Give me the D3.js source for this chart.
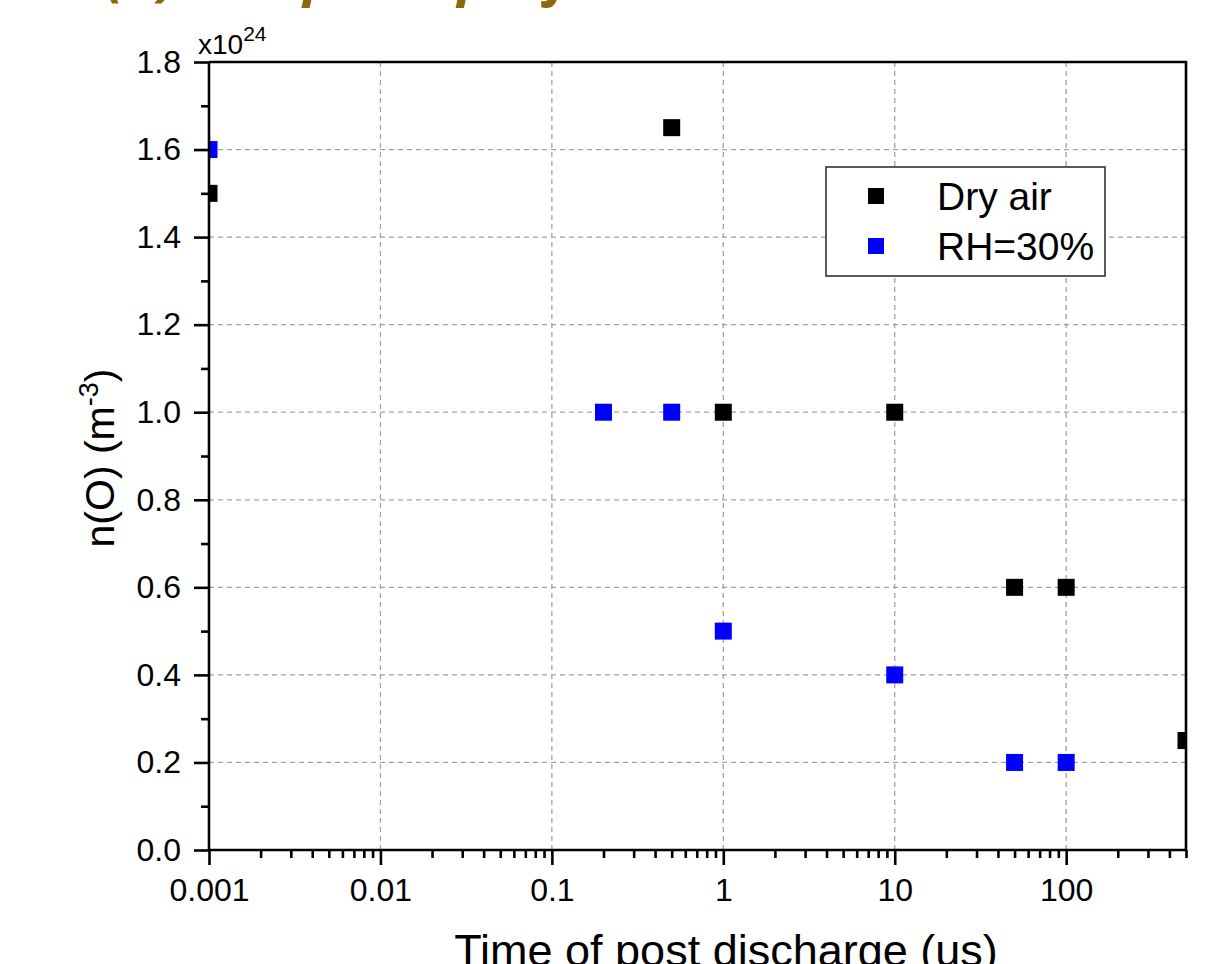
<!DOCTYPE html>
<html>
<head>
<meta charset="utf-8">
<script src="https://cdn.jsdelivr.net/npm/d3@7"></script>
<style>
  html, body { margin: 0; padding: 0; background: #fff; }
  svg { display: block; font-family: "Liberation Sans", Arial, sans-serif; }
</style>
</head>
<body>
<svg id="chart" width="1221" height="964"></svg>
<script>
// ---- data ----
const dryTime  = [0.001, 0.5, 1, 10, 50, 100, 500];
const dryValue = [1.5, 1.65, 1.0, 1.0, 0.6, 0.6, 0.25];
const rhTime   = [0.001, 0.2, 0.5, 1, 10, 50, 100];
const rhValue  = [1.6, 1.0, 1.0, 0.5, 0.4, 0.2, 0.2];
const seriesNames = ["Dry air", "RH=30%"];
const xTickValues = [0.001, 0.01, 0.1, 1, 10, 100];
const xTickLabels = ["0.001", "0.01", "0.1", "1", "10", "100"];
const yTickValues = [0, 0.2, 0.4, 0.6, 0.8, 1.0, 1.2, 1.4, 1.6, 1.8];
const yTickLabels = ["0.0", "0.2", "0.4", "0.6", "0.8", "1.0", "1.2", "1.4", "1.6", "1.8"];

// ---- layout ----
const L = 209, R = 1186, T = 62, B = 850;
const svg = d3.select("#chart");

const x = d3.scaleLog().domain([0.001, 500]).range([L, R]);
const y = d3.scaleLinear().domain([0, 1.8]).range([B, T]);

// title (cropped at top of picture)
svg.append("text")
  .attr("x", 106).attr("y", -5)
  .attr("fill", "#8a6a0c")
  .attr("font-size", 56).attr("font-weight", "bold").attr("font-style", "italic")
  .attr("font-family", "Open Sans, sans-serif")
  .text("(a) Temporal profile");

// grid
const gridColor = "#a3a3a3";
svg.append("g").selectAll("line")
  .data(xTickValues.filter(v => v > 0.001))
  .join("line")
  .attr("x1", d => x(d)).attr("x2", d => x(d))
  .attr("y1", T).attr("y2", B)
  .attr("stroke", gridColor).attr("stroke-width", 1.3).attr("stroke-dasharray", "5,4");
svg.append("g").selectAll("line")
  .data(yTickValues.filter(v => v > 0 && v < 1.8))
  .join("line")
  .attr("x1", L).attr("x2", R)
  .attr("y1", d => y(d)).attr("y2", d => y(d))
  .attr("stroke", gridColor).attr("stroke-width", 1.3).attr("stroke-dasharray", "5,4");

// clip
svg.append("clipPath").attr("id", "plotClip")
  .append("rect").attr("x", L).attr("y", T).attr("width", R - L).attr("height", B - T);

const ms = 17;
const pts = svg.append("g").attr("clip-path", "url(#plotClip)");
const dry = dryTime.map((t, i) => ({t, v: dryValue[i]}));
const rh = rhTime.map((t, i) => ({t, v: rhValue[i]}));
pts.selectAll("rect.dry").data(dry).join("rect").attr("class", "dry")
  .attr("x", d => x(d.t) - ms / 2).attr("y", d => y(d.v) - ms / 2)
  .attr("width", ms).attr("height", ms).attr("fill", "#000");
pts.selectAll("rect.rh").data(rh).join("rect").attr("class", "rh")
  .attr("x", d => x(d.t) - ms / 2).attr("y", d => y(d.v) - ms / 2)
  .attr("width", ms).attr("height", ms).attr("fill", "#0000ff");

// axes
const axisW = 2.6;
const xMinor = [];
for (let e = -3; e <= 2; e++) for (let k = 2; k <= 9; k++) {
  const v = k * Math.pow(10, e);
  if (v <= 500) xMinor.push(v);
}
const yMinor = d3.range(0.1, 1.8, 0.2);

const xAxis = svg.append("g").attr("transform", `translate(0,${B})`)
  .call(d3.axisBottom(x).tickValues(xTickValues).tickSize(15).tickPadding(13)
    .tickFormat((d, i) => xTickLabels[i]));
const xAxisMinor = svg.append("g").attr("transform", `translate(0,${B})`)
  .call(d3.axisBottom(x).tickValues(xMinor).tickSize(8).tickFormat(""));
const yAxis = svg.append("g").attr("transform", `translate(${L},0)`)
  .call(d3.axisLeft(y).tickValues(yTickValues).tickSize(15).tickPadding(13)
    .tickFormat((d, i) => yTickLabels[i]));
const yAxisMinor = svg.append("g").attr("transform", `translate(${L},0)`)
  .call(d3.axisLeft(y).tickValues(yMinor).tickSize(8).tickFormat(""));

[xAxis, xAxisMinor, yAxis, yAxisMinor].forEach(g => {
  g.select(".domain").attr("stroke", "#000").attr("stroke-width", axisW);
  g.selectAll(".tick line").attr("stroke", "#000").attr("stroke-width", axisW);
  g.selectAll(".tick text").attr("fill", "#000").attr("font-size", 32)
    .attr("font-family", "Liberation Sans, Arial, sans-serif");
});
xAxis.select(".domain").attr("d", `M${L},0H${R}`);
xAxisMinor.select(".domain").remove();
yAxis.select(".domain").attr("d", `M0,${B}V${T}`);
yAxisMinor.select(".domain").remove();

// frame top / right
svg.append("path")
  .attr("d", `M${L},${T}H${R}V${B}`)
  .attr("fill", "none").attr("stroke", "#000").attr("stroke-width", axisW);

// exponent label
const ex = svg.append("text").attr("x", 198).attr("y", 54)
  .attr("font-size", 28).attr("fill", "#000");
ex.append("tspan").text("x10");
ex.append("tspan").attr("font-size", 21).attr("dy", -13).text("24");

// axis titles
svg.append("text")
  .attr("x", 726).attr("y", 966)
  .attr("text-anchor", "middle").attr("font-size", 45).attr("fill", "#000")
  .text("Time of post discharge (us)");

const yt = svg.append("text")
  .attr("transform", `translate(114,${(T + B) / 2 + 2}) rotate(-90)`)
  .attr("text-anchor", "middle").attr("font-size", 41).attr("fill", "#000");
yt.append("tspan").text("n(O) (m");
yt.append("tspan").attr("font-size", 27).attr("dy", -16).text("-3");
yt.append("tspan").attr("dy", 16).text(")");

// legend
const lg = svg.append("g");
lg.append("rect").attr("x", 826).attr("y", 167).attr("width", 279).attr("height", 109)
  .attr("fill", "#fff").attr("stroke", "#333").attr("stroke-width", 1.6);
const legendColors = ["#000", "#0000ff"];
seriesNames.forEach((name, i) => {
  const cy = 196 + i * 50;
  lg.append("rect").attr("x", 876 - 8).attr("y", cy - 8).attr("width", 16).attr("height", 16)
    .attr("fill", legendColors[i]);
  lg.append("text").attr("x", 937).attr("y", cy + 14)
    .attr("font-size", 39).attr("fill", "#000").text(name);
});
</script>
</body>
</html>
